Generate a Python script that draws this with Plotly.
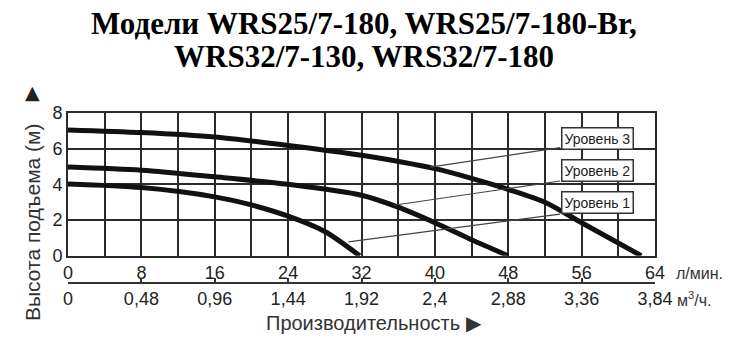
import plotly.graph_objects as go

# ---- data ----
flow_l3 = [0, 8, 16, 24, 32, 40, 44, 48, 52, 56, 62.5]
head_l3 = [7.05, 6.9, 6.65, 6.18, 5.63, 4.88, 4.34, 3.72, 3.0, 1.85, 0]
flow_l2 = [0, 8, 16, 24, 32, 36, 40, 44, 48]
head_l2 = [4.97, 4.79, 4.42, 4.0, 3.39, 2.72, 1.85, 0.9, 0]
flow_l1 = [0, 8, 16, 20, 24, 28, 31.8]
head_l1 = [4.02, 3.82, 3.3, 2.85, 2.22, 1.36, 0]

level_names = ["Уровень 3", "Уровень 2", "Уровень 1"]
label_pos = [(57.7, 6.55), (57.7, 4.79), (57.7, 3.0)]
leader_from = [(53.65, 6.06), (53.65, 4.19), (53.65, 2.33)]
leader_to = [(39.5, 4.97), (35.5, 2.83), (30.57, 0.78)]

lpm_ticks = [0, 8, 16, 24, 32, 40, 48, 56, 64]
m3h_ticks = [0, 0.48, 0.96, 1.44, 1.92, 2.4, 2.88, 3.36, 3.84]
m3h_text = ["0", "0,48", "0,96", "1,44", "1,92", "2,4", "2,88", "3,36", "3,84"]
head_ticks = [0, 2, 4, 6, 8]

title_lines = ["Модели WRS25/7-180, WRS25/7-180-Br,", "WRS32/7-130, WRS32/7-180"]

# pixel -> paper helpers (plot area: x 68..655, paper y: 314 bottom .. 113 top)
def px(xp):
    return (xp - 68) / 587

def py(yp):
    return (314 - yp) / 201

fig = go.Figure()
curve_color = "#111111"
for fx, hy in [(flow_l3, head_l3), (flow_l2, head_l2), (flow_l1, head_l1)]:
    fig.add_trace(go.Scatter(x=fx, y=hy, mode="lines",
                             line=dict(color=curve_color, width=5, shape="spline", smoothing=0.8),
                             showlegend=False, hoverinfo="skip"))

for (x0, y0), (x1, y1) in zip(leader_from, leader_to):
    fig.add_trace(go.Scatter(x=[x0, x1], y=[y0, y1], mode="lines",
                             line=dict(color="#444444", width=1.2),
                             showlegend=False, hoverinfo="skip"))

# invisible trace to activate the second x-axis
fig.add_trace(go.Scatter(x=[0, 3.84], y=[None, None], xaxis="x2", yaxis="y",
                         mode="lines", showlegend=False, hoverinfo="skip"))

for name, (lx, ly) in zip(level_names, label_pos):
    fig.add_annotation(x=lx, y=ly, xref="x", yref="y", text=name, showarrow=False,
                       font=dict(family="Liberation Sans", size=14, color="#222"),
                       bgcolor="white", bordercolor="#333", borderwidth=1.5, borderpad=2)

tick_font = dict(family="Liberation Sans", size=18, color="#222")
grid_color = "#2a2a2a"

fig.update_layout(
    width=750, height=354,
    margin=dict(l=68, r=95, t=113, b=40),
    paper_bgcolor="white", plot_bgcolor="white",
    xaxis=dict(range=[0, 64], tickvals=lpm_ticks, ticktext=[str(v) for v in lpm_ticks],
               showgrid=True, gridcolor=grid_color, gridwidth=1.6,
               minor=dict(dtick=4, tick0=0, showgrid=True, gridcolor=grid_color, gridwidth=1.6),
               showline=True, linecolor=grid_color, linewidth=1.6, mirror=True,
               ticks="", ticklabelstandoff=0, tickfont=tick_font, zeroline=False,
               anchor="y"),
    xaxis2=dict(range=[0, 3.84], tickvals=m3h_ticks, ticktext=m3h_text,
                overlaying="x", anchor="free", position=py(282.5), side="bottom",
                showgrid=False, showline=True, linecolor="#333", linewidth=1.5,
                ticks="inside", ticklen=4, tickcolor="#333", tickwidth=1.5,
                tickfont=tick_font, zeroline=False),
    yaxis=dict(range=[0, 8], tickvals=head_ticks, domain=[0.29, 1],
               showgrid=True, gridcolor=grid_color, gridwidth=1.6,
               showline=True, linecolor=grid_color, linewidth=1.6, mirror=True,
               ticks="", tickfont=tick_font, zeroline=False),
)

# title (two lines)
for line, yp in zip(title_lines, [23, 56]):
    fig.add_annotation(x=px(364), y=py(yp), xref="paper", yref="paper", text=line,
                       showarrow=False, xanchor="center", yanchor="middle",
                       font=dict(family="Liberation Serif", size=31, color="black", weight="bold"))

fig.add_annotation(x=px(32), y=py(222), xref="paper", yref="paper",
                   text="Высота подъема (м)", textangle=-90, showarrow=False,
                   xanchor="center", yanchor="middle",
                   font=dict(family="Liberation Sans", size=21, color="#333"))
fig.add_annotation(x=px(32), y=py(92), xref="paper", yref="paper",
                   text="▲", showarrow=False, xanchor="center", yanchor="middle",
                   font=dict(family="DejaVu Sans", size=19, color="#222"))
fig.add_annotation(x=px(374), y=py(323), xref="paper", yref="paper",
                   text="Производительность ▶", showarrow=False,
                   xanchor="center", yanchor="middle",
                   font=dict(family="Liberation Sans", size=20, color="#333"))
fig.add_annotation(x=px(674), y=py(273), xref="paper", yref="paper",
                   text="л/мин.", showarrow=False, xanchor="left", yanchor="middle",
                   font=dict(family="Liberation Sans", size=16, color="#333"))
fig.add_annotation(x=px(675), y=py(299), xref="paper", yref="paper",
                   text="м<sup>3</sup>/ч.", showarrow=False, xanchor="left", yanchor="middle",
                   font=dict(family="Liberation Sans", size=16, color="#333"))

fig.write_html("out.html")
